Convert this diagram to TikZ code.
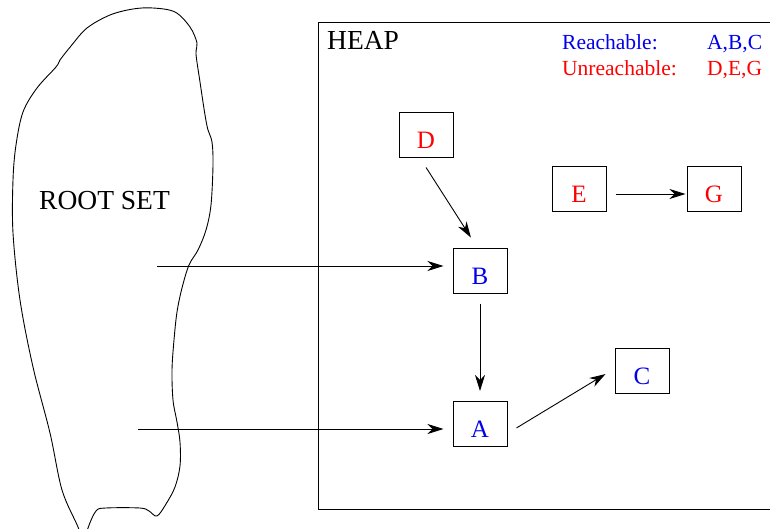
\documentclass[tikz,border=0pt]{standalone}
\usepackage{fontspec}
\setmainfont{Liberation Serif}
\usetikzlibrary{arrows.meta}
\definecolor{reach}{RGB}{0,0,235}
\definecolor{unreach}{RGB}{255,0,0}
\tikzset{
  objbox/.style={draw, line width=1pt, minimum width=54pt, inner sep=0pt,
    text height=36pt, text depth=9pt, font=\fontsize{25}{30}\selectfont},
  arr/.style={line width=0.9pt, -{Stealth[length=16pt,width=10pt,inset=5pt]}},
  big/.style={font=\fontsize{27.5}{32}\selectfont, inner sep=0pt, anchor=base west},
  legend/.style={font=\fontsize{21.5}{26}\selectfont, inner sep=0pt, anchor=base west}
}
\begin{document}
\begin{tikzpicture}[x=1pt,y=-1pt]
\useasboundingbox (0,0) rectangle (770,529);
% root set blob
\draw[line width=0.9pt] plot[smooth cycle, tension=0.55] coordinates {
 (153,8) (175,12) (190,27) (197,43) (196,54) (200,82) (205,115) (208,130)
 (212,142) (213,165) (211,205) (206,230) (198,250) (189,265) (182,288)
 (177,312) (174,340) (172,370) (173,400) (177,422) (180,442) (180,466)
 (175,487) (166,504) (157,516) (149,511) (140,508) (106,508) (96,511)
 (88,528) (84,545) (78,527) (62,490) (50,433) (33,367) (20,300) (13,233)
 (13,180) (16,145) (23,112) (37,88) (56,67) (60,60) (71,46) (87,28)
 (110,15) (133,9)};
\node[big] (root) at (39,210) {ROOT SET};
% heap
\draw[line width=1pt] (780,23) -- (318,23) -- (318,509) -- (780,509);
\node[big] (heap) at (327,50) {HEAP};
\node[legend, text=reach] (lr) at (562,50) {Reachable:};
\node[legend, text=unreach] (lu) at (562,76) {Unreachable:};
\node[legend, text=reach] (lrv) at (707,50) {A,B,C};
\node[legend, text=unreach] (luv) at (707,76) {D,E,G};
% objects
\node[objbox, text=unreach] (D) at (426,135.5) {D};
\node[objbox, text=unreach] (E) at (579,189.5) {E};
\node[objbox, text=unreach] (G) at (714,189.5) {G};
\node[objbox, text=reach] (B) at (480,270.5) {B};
\node[objbox, text=reach] (A) at (480,424) {A};
\node[objbox, text=reach] (C) at (642,370.5) {C};
% roots
\coordinate (r1) at (157,266);
\coordinate (r2) at (138,429);
\draw[arr, shorten >=9pt] (r1) -- (r1 -| B.west);
\draw[arr, shorten >=9pt] (r2) -- (r2 -| A.west);
% edges
\draw[arr, shorten <=10.7pt, shorten >=11.8pt] ([xshift=-5.7pt]D.south) -- ([xshift=-2.7pt]B.north);
\draw[arr, shorten <=9pt, shorten >=1pt] ([yshift=-4.5pt]E.east) -- ([yshift=-4.5pt]G.west);
\draw[arr, shorten <=10pt, shorten >=10pt] (B.south) -- (A.north);
\draw[arr, shorten <=10.5pt, shorten >=10.5pt] ([yshift=-9.4pt]A.east) -- ([yshift=1.9pt]C.west);
\end{tikzpicture}
\end{document}
